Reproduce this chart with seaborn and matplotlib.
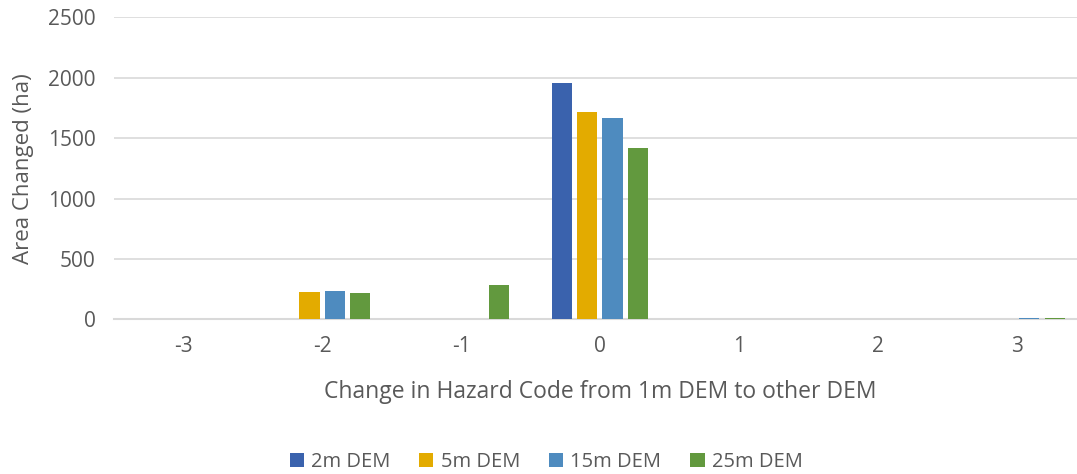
import matplotlib
matplotlib.use("Agg")
import matplotlib.pyplot as plt
import seaborn as sns
import pandas as pd

# Change in hazard code categories
codes = ["-3", "-2", "-1", "0", "1", "2", "3"]
series = ["2m DEM", "5m DEM", "15m DEM", "25m DEM"]

# Area changed (ha) per DEM resolution
area_2m = [0, 0, 2, 1952, 2, 0, 2]
area_5m = [0, 224, 2, 1713, 5, 0, 3]
area_15m = [0, 232, 2, 1668, 6, 1, 16]
area_25m = [0, 221, 285, 1414, 5, 1, 16]

colors = ["#3A62AD", "#E3AB00", "#4E8BBF", "#62993E"]

df = pd.DataFrame({
    "code": codes * 4,
    "dem": sum([[s] * len(codes) for s in series], []),
    "area": area_2m + area_5m + area_15m + area_25m,
})

sns.set_theme(style="white")
plt.rcParams["font.family"] = ["Open Sans", "DejaVu Sans"]

fig = plt.figure(figsize=(10.77, 4.74), dpi=100)
ax = fig.add_axes([0.1054, 0.326, 0.9034, 0.638])

sns.barplot(data=df, x="code", y="area", hue="dem", order=codes,
            hue_order=series, palette=colors, width=0.72, gap=0.2,
            saturation=1, ax=ax, edgecolor="none", linewidth=0,
            errorbar=None)
for bar in ax.patches:
    bar.set_zorder(3)

ax.set_ylim(0, 2500)
ax.set_xlim(-0.5, 6.5)
ax.set_yticks([0, 500, 1000, 1500, 2000, 2500])
ax.yaxis.grid(True, color="#D9D9D9", linewidth=1.2)
ax.set_axisbelow(True)
for side in ["top", "right", "left"]:
    ax.spines[side].set_visible(False)
ax.spines["bottom"].set_color("#D9D9D9")
ax.spines["bottom"].set_linewidth(1.5)
ax.spines["bottom"].set_zorder(2)
ax.tick_params(axis="both", length=0, colors="#595959", labelsize=15)
ax.tick_params(axis="y", pad=13)
ax.tick_params(axis="x", pad=12)

ax.set_xlabel("Change in Hazard Code from 1m DEM to other DEM",
              fontsize=16.5, color="#595959")
ax.set_ylabel("Area Changed (ha)", fontsize=16, color="#595959")
ax.xaxis.set_label_coords(0.5, -0.2)
ax.yaxis.set_label_coords(-0.082, 0.5)

handles, labels = ax.get_legend_handles_labels()
ax.get_legend().remove()
fig.legend(handles, labels, loc="lower center", ncol=4, frameon=False,
           bbox_to_anchor=(0.507, -0.035), fontsize=14.5, handlelength=0.7,
           handleheight=0.7, handletextpad=0.35, columnspacing=1.45,
           labelcolor="#595959")

fig.savefig("out.png", dpi=100)
